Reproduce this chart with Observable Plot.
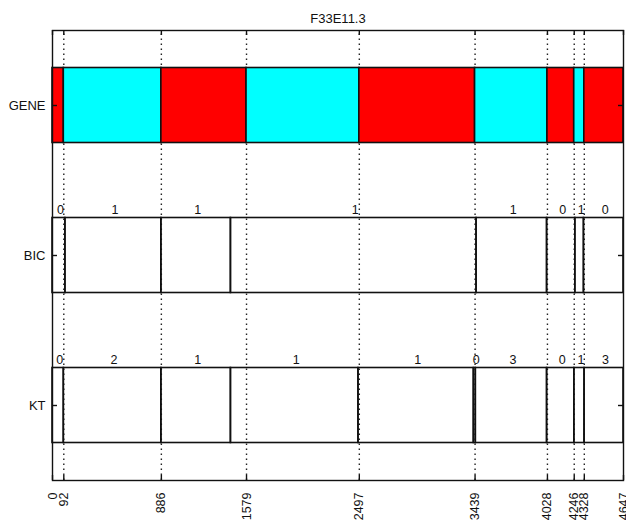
<!DOCTYPE html>
<html>
<head>
<meta charset="utf-8">
<script src="https://cdn.jsdelivr.net/npm/d3@7"></script>
<script src="https://cdn.jsdelivr.net/npm/@observablehq/plot@0.6"></script>
<style>
  html, body { margin: 0; padding: 0; background: #fff; }
  #chart svg { display: block; }
</style>
</head>
<body>
<div id="chart"></div>
<script>
// ---- data ----
const title = "F33E11.3";
const rows = ["KT", "BIC", "GENE"]; // bottom to top
const xMax = 4647;
const xTicks = [0, 92, 886, 1579, 2497, 3439, 4028, 4246, 4328, 4647];

const geneBounds = [0, 92, 886, 1579, 2497, 3439, 4028, 4246, 4328, 4647];
const geneStates = ["A", "B", "A", "B", "A", "B", "A", "B", "A"];

const bicBounds = [0, 105, 886, 1452, 3451, 4025, 4255, 4325, 4647];
const bicCounts = [0, 1, 1, 1, 1, 0, 1, 0];

const ktBounds = [0, 92, 886, 1452, 2490, 3429, 3445, 4025, 4247, 4330, 4647];
const ktCounts = [0, 2, 1, 1, 1, 0, 3, 0, 1, 3];

// ---- build tables ----
const rowY = name => rows.indexOf(name) + 1;
const segs = (bounds, vals, row) =>
  vals.map((v, i) => ({x1: bounds[i], x2: bounds[i + 1], v, row: rowY(row)}));

const geneSegs = segs(geneBounds, geneStates, "GENE");
const bicSegs = segs(bicBounds, bicCounts, "BIC");
const ktSegs = segs(ktBounds, ktCounts, "KT");
const boxSegs = bicSegs.concat(ktSegs);

const half = 0.25;
const ink = "#111";
const innerTicks = xTicks.filter(d => d > 0 && d < xMax);
const tickLenX = xMax * 5 / 571;
const tickLenY = 5 / 150;

const chart = Plot.plot({
  width: 626,
  height: 524,
  marginLeft: 52,
  marginRight: 3,
  marginTop: 30,
  marginBottom: 44,
  style: {fontFamily: "'Liberation Sans', Arial, sans-serif", background: "#fff", color: ink},
  x: {domain: [0, xMax], label: null},
  y: {domain: [0.5, rows.length + 0.5], label: null},
  color: {domain: ["A", "B"], range: ["#ff0000", "#00ffff"]},
  marks: [
    Plot.ruleX(innerTicks, {x: d => d, y1: 0.5, y2: rows.length + 0.5, stroke: "#222", strokeWidth: 1.4, strokeDasharray: "1.4,3.6"}),
    Plot.rect(geneSegs, {x1: "x1", x2: "x2", y1: d => d.row - half, y2: d => d.row + half, fill: "v", stroke: ink, strokeWidth: 1.6}),
    Plot.rect(boxSegs, {x1: "x1", x2: "x2", y1: d => d.row - half, y2: d => d.row + half, fill: "none", stroke: ink, strokeWidth: 1.6}),
    Plot.text(boxSegs, {x: d => (d.x1 + d.x2) / 2, y: d => d.row + half, text: d => String(d.v), dx: 1.5, dy: -8, fontSize: 12.5, fill: ink}),
    Plot.frame({stroke: ink, strokeWidth: 1.4}),
    // inward tick marks
    Plot.ruleX(xTicks, {x: d => d, y1: 0.5, y2: 0.5 + tickLenY, stroke: ink, strokeWidth: 1.4}),
    Plot.ruleX(xTicks, {x: d => d, y1: rows.length + 0.5, y2: rows.length + 0.5 - tickLenY, stroke: ink, strokeWidth: 1.4}),
    Plot.ruleY(rows.map((r, i) => i + 1), {y: d => d, x1: 0, x2: tickLenX, stroke: ink, strokeWidth: 1.4}),
    Plot.ruleY(rows.map((r, i) => i + 1), {y: d => d, x1: xMax, x2: xMax - tickLenX, stroke: ink, strokeWidth: 1.4}),
    Plot.axisX({ticks: xTicks, tickFormat: d => String(d), tickRotate: -90, tickSize: 0, tickPadding: 12, fontSize: 12.5, fill: ink, label: null}),
    Plot.axisY({ticks: rows.map((r, i) => i + 1), tickFormat: d => rows[d - 1], tickSize: 0, tickPadding: 7, fontSize: 13, fill: ink, label: null}),
    Plot.text([title], {frameAnchor: "top", dy: -17, fontSize: 13, fill: ink})
  ]
});
document.getElementById("chart").appendChild(chart);
</script>
</body>
</html>
